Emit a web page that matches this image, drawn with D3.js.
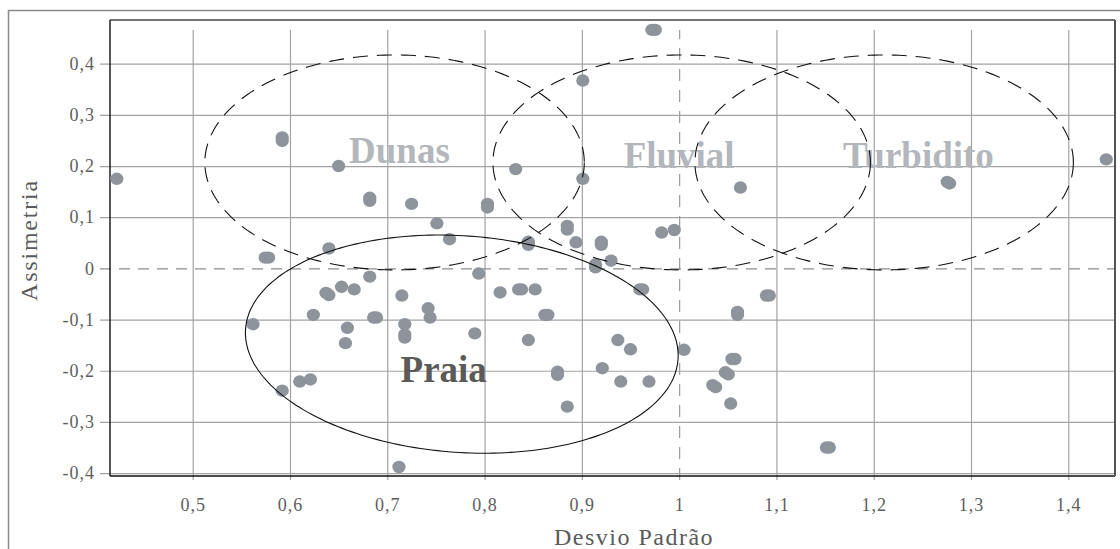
<!DOCTYPE html>
<html>
<head>
<meta charset="utf-8">
<script src="https://cdn.jsdelivr.net/npm/d3@7"></script>
<style>
  html, body { margin: 0; padding: 0; background: #fff; }
  svg { display: block; }
</style>
</head>
<body>
<svg id="chart" width="1120" height="549"></svg>
<script>
// ---- data ----
const xTicks = [0.5, 0.6, 0.7, 0.8, 0.9, 1.0, 1.1, 1.2, 1.3, 1.4];
const xTickLabels = ["0,5", "0,6", "0,7", "0,8", "0,9", "1", "1,1", "1,2", "1,3", "1,4"];
const yTicks = [0.4, 0.3, 0.2, 0.1, 0, -0.1, -0.2, -0.3, -0.4];
const yTickLabels = ["0,4", "0,3", "0,2", "0,1", "0", "-0,1", "-0,2", "-0,3", "-0,4"];

// sample points: Desvio Padrão (x) and Assimetria (y)
const desvioPadrao = [
  0.422, 0.592, 0.592, 0.650, 0.682, 0.682, 0.640, 0.5745, 0.578, 0.901,
  0.832, 0.901, 0.972, 0.9755, 0.725, 0.751, 0.764, 0.803, 0.803, 0.845,
  0.845, 0.885, 0.885, 0.894, 0.920, 0.920, 0.914, 0.914, 0.930, 0.982,
  0.995, 1.063, 1.2755, 1.278, 1.439, 0.682, 0.637, 0.640, 0.653, 0.666,
  0.715, 0.624, 0.562, 0.686, 0.689, 0.659, 0.657, 0.718, 0.718, 0.718,
  0.742, 0.744, 0.610, 0.621, 0.592, 0.712, 0.794, 0.816, 0.835, 0.838,
  0.852, 0.862, 0.865, 0.9595, 0.9625, 0.790, 0.845, 0.937, 0.950, 0.875,
  0.875, 0.921, 0.940, 0.969, 0.885, 1.0897, 1.0927, 1.060, 1.060, 1.005,
  1.0543, 1.0573, 1.0475, 1.0505, 1.0345, 1.0375, 1.053, 1.1514, 1.1544
];
const assimetria = [
  0.175, 0.256, 0.249, 0.200, 0.138, 0.132, 0.039, 0.021, 0.021, 0.367,
  0.194, 0.175, 0.466, 0.466, 0.126, 0.088, 0.057, 0.126, 0.119, 0.052,
  0.046, 0.083, 0.076, 0.051, 0.052, 0.046, 0.008, 0.002, 0.015, 0.070,
  0.075, 0.158, 0.169, 0.166, 0.213, -0.016, -0.048, -0.052, -0.036, -0.041,
  -0.053, -0.091, -0.109, -0.096, -0.096, -0.116, -0.146, -0.109, -0.129, -0.135,
  -0.078, -0.096, -0.221, -0.217, -0.239, -0.388, -0.010, -0.047, -0.041, -0.041,
  -0.041, -0.091, -0.091, -0.041, -0.041, -0.127, -0.140, -0.140, -0.158, -0.202,
  -0.208, -0.195, -0.221, -0.221, -0.270, -0.053, -0.053, -0.085, -0.091, -0.159,
  -0.177, -0.177, -0.203, -0.207, -0.228, -0.232, -0.264, -0.350, -0.350
];

// environment fields (ellipses) in data units
const zoneNames = ["Dunas", "Fluvial", "Turbidito", "Praia"];
const zoneCx = [0.7075, 1.0026, 1.2107, 0.7766];
const zoneCy = [0.207, 0.207, 0.207, -0.148];
const zoneRx = [0.195, 0.194, 0.1945, 0.2228];
const zoneRy = [0.210, 0.210, 0.210, 0.2116];
const zoneTilt = [0, 0, 0, 4];          // degrees
const zoneSolid = [false, false, false, true];
const labelX = [0.7125, 1.0, 1.246, 0.758];
const labelY = [0.206, 0.196, 0.196, -0.222];

// ---- chart ----
const FONT = '"Liberation Serif", "Times New Roman", Times, serif';
const svg = d3.select("#chart");
const L = 110, R = 1115, T = 20, B = 476;

const x = d3.scaleLinear().domain([0.415, 1.448]).range([L, R]);
const y = d3.scaleLinear().domain([-0.4056, 0.4853]).range([B, T]);

// outer frame
svg.append("rect")
  .attr("x", 8.5).attr("y", 10.5).attr("width", 1200).attr("height", 700)
  .attr("fill", "none").attr("stroke", "#8a8a8a").attr("stroke-width", 1.5);

// x axis + vertical grid
const xAxis = d3.axisBottom(x)
  .tickValues(xTicks)
  .tickFormat(d => xTickLabels[xTicks.indexOf(d)])
  .tickSizeInner(-(480 - 30))
  .tickSizeOuter(0)
  .tickPadding(18);
const gx = svg.append("g").attr("transform", "translate(0,480)").call(xAxis)
  .attr("font-family", FONT);
gx.select(".domain").remove();
gx.selectAll(".tick line").attr("stroke", "#a3a3a3").attr("stroke-width", 1.2)
  .filter(d => d === 1.0).attr("stroke", "#9a9a9a").attr("stroke-dasharray", "12,9");
gx.selectAll(".tick text")
  .attr("fill", "#5e5e5e").style("font-size", "18px").style("letter-spacing", "1px")
  .style("font-family", FONT);

// y axis + horizontal grid
const yAxis = d3.axisLeft(y)
  .tickValues(yTicks)
  .tickFormat(d => yTickLabels[yTicks.indexOf(d)])
  .tickSizeInner(-(R - 100))
  .tickSizeOuter(0)
  .tickPadding(5);
const gy = svg.append("g").attr("transform", "translate(100,0)").call(yAxis)
  .attr("font-family", FONT);
gy.select(".domain").remove();
gy.selectAll(".tick line").attr("stroke", "#a3a3a3").attr("stroke-width", 1.2)
  .filter(d => d === 0).attr("stroke", "#8e8e8e").attr("stroke-dasharray", "11,8");
gy.selectAll(".tick text")
  .attr("fill", "#5e5e5e").style("font-size", "18px").style("letter-spacing", "1px")
  .style("font-family", FONT);

// plot border
svg.append("line").attr("x1", L).attr("x2", R).attr("y1", T).attr("y2", T)
  .attr("stroke", "#444").attr("stroke-width", 1.4);
svg.append("line").attr("x1", L).attr("x2", L).attr("y1", T).attr("y2", B)
  .attr("stroke", "#111").attr("stroke-width", 1.4);
svg.append("line").attr("x1", L).attr("x2", R).attr("y1", B).attr("y2", B)
  .attr("stroke", "#111").attr("stroke-width", 1.4);
svg.append("line").attr("x1", R).attr("x2", R).attr("y1", T).attr("y2", B)
  .attr("stroke", "#555").attr("stroke-width", 2);

// points
const pts = desvioPadrao.map((d, i) => ({ x: d, y: assimetria[i] }));
svg.append("g").selectAll("ellipse").data(pts).join("ellipse")
  .attr("cx", d => x(d.x)).attr("cy", d => y(d.y))
  .attr("rx", 6.6).attr("ry", 6.2)
  .attr("fill", "#8e949c");

// zone labels
const labelFill = ["#b3b7bc", "#b3b7bc", "#b3b7bc", "#5a5a58"];
svg.append("g").selectAll("text").data(zoneNames).join("text")
  .attr("x", (d, i) => x(labelX[i])).attr("y", (d, i) => y(labelY[i]))
  .attr("text-anchor", "middle")
  .attr("fill", (d, i) => labelFill[i])
  .style("font-family", FONT)
  .style("font-size", "37px").style("font-weight", "bold")
  .text(d => d);

// zone ellipses
const line = d3.line().curve(d3.curveLinearClosed);
zoneNames.forEach((name, i) => {
  const cx = x(zoneCx[i]), cy = y(zoneCy[i]);
  const rxp = x(zoneCx[i] + zoneRx[i]) - cx;
  const ryp = cy - y(zoneCy[i] + zoneRy[i]);
  const th = zoneTilt[i] * Math.PI / 180;
  const ptsE = d3.range(0, 240).map(k => {
    const t = k / 240 * 2 * Math.PI;
    const dx = rxp * Math.cos(t), dy = ryp * Math.sin(t);
    return [cx + dx * Math.cos(th) - dy * Math.sin(th), cy + dx * Math.sin(th) + dy * Math.cos(th)];
  });
  svg.append("path").attr("d", line(ptsE))
    .attr("fill", "none").attr("stroke", "#111").attr("stroke-width", 1.1)
    .attr("stroke-dasharray", zoneSolid[i] ? null : "15,9");
});

// axis titles
svg.append("text")
  .attr("x", 634).attr("y", 545)
  .attr("text-anchor", "middle").attr("fill", "#5a5a5a")
  .style("font-family", FONT)
  .style("font-size", "24px").style("letter-spacing", "1.5px")
  .text("Desvio Padrão");
svg.append("text")
  .attr("transform", "translate(37,240) rotate(-90)")
  .attr("text-anchor", "middle").attr("fill", "#5a5a5a")
  .style("font-family", FONT)
  .style("font-size", "24px").style("letter-spacing", "1.8px")
  .text("Assimetria");
</script>
</body>
</html>
